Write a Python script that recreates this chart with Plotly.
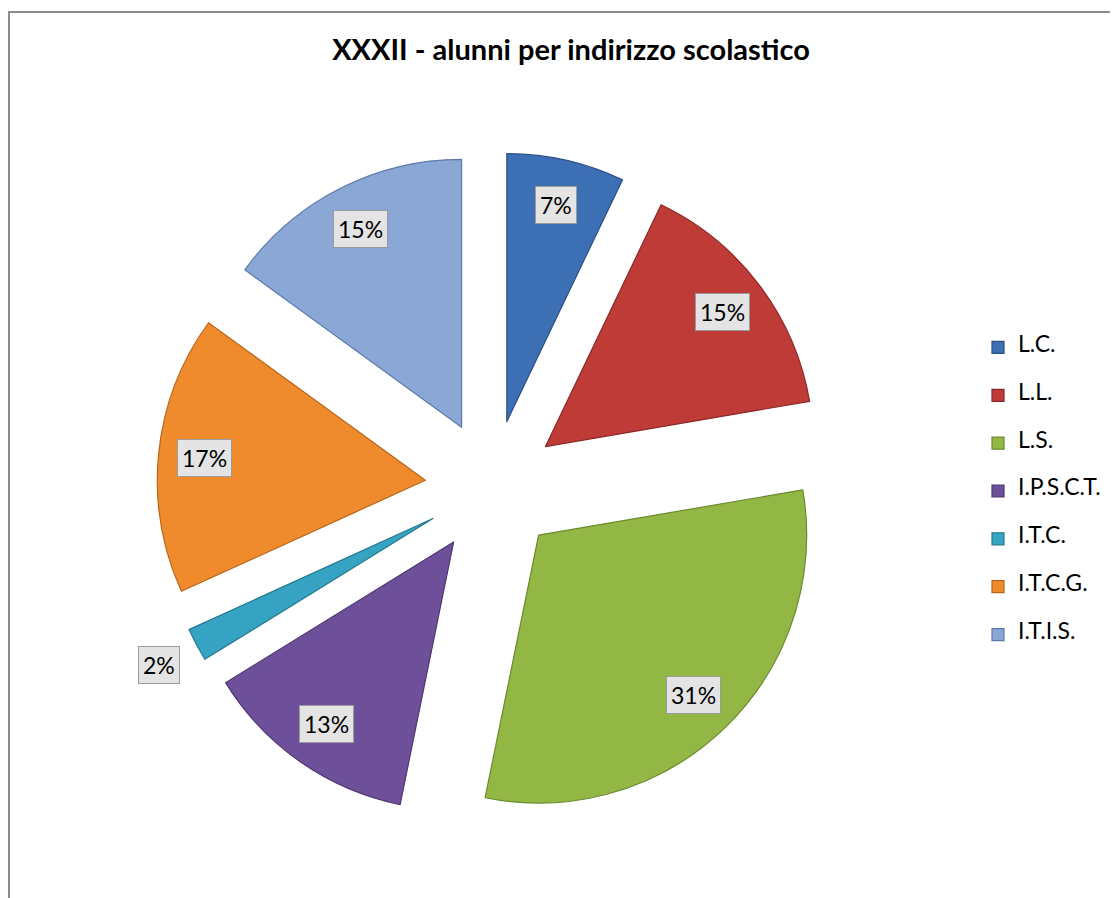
import math
import plotly.graph_objects as go

# dati
indirizzi = ["L.C.", "L.L.", "L.S.", "I.P.S.C.T.", "I.T.C.", "I.T.C.G.", "I.T.I.S."]
quote = [7.1, 15.2, 30.9, 13.0, 2.0, 16.8, 15.0]
colori = ["#3D6FB5", "#BE3B38", "#93B745", "#6D4F9A", "#35A3C1", "#EF8B2C", "#8AA7D6"]
bordi = ["#2A4F84", "#8B2826", "#6B8A2E", "#4F3870", "#267A90", "#B8651A", "#5D7BAA"]

W, H = 1118, 898
PULL = 0.25
dom_x = [149 / W, 819 / W]
dom_y = [1 - 814 / H, 1 - 144 / H]

# legenda: riga vuota sopra e sotto per distanziare le voci
etichette = ['<br><span style="font-size:23px">%s</span><br>' % s for s in indirizzi]

fig = go.Figure(go.Pie(
    labels=etichette,
    values=quote,
    sort=False,
    direction="clockwise",
    rotation=0,
    pull=PULL,
    textinfo="none",
    marker=dict(colors=colori, line=dict(color=bordi, width=1.2)),
    domain=dict(x=dom_x, y=dom_y),
    hoverinfo="skip",
))

# geometria della torta come la calcola plotly
bw = (dom_x[1] - dom_x[0]) * W
bh = (dom_y[1] - dom_y[0]) * H
r = min(bw, bh) / (2 + 2 * PULL)
cx = (dom_x[0] + dom_x[1]) / 2 * W
cy = (1 - (dom_y[0] + dom_y[1]) / 2) * H

tot = sum(quote)
cum = 0
for v in quote:
    mid = (cum + v / 2) / tot * 2 * math.pi
    cum += v
    k = 0.83 if v / tot > 0.03 else 1.16
    d = (PULL + k) * r
    px = cx + d * math.sin(mid)
    py = cy - d * math.cos(mid)
    fig.add_annotation(
        x=px / W, y=1 - py / H, xref="paper", yref="paper",
        xanchor="center", yanchor="middle",
        text="%d%%" % round(v / tot * 100), showarrow=False,
        font=dict(family="Lato, Open Sans, sans-serif", size=23, color="black"),
        bgcolor="#E4E4E4", bordercolor="#9A9A9A", borderwidth=1, borderpad=4,
    )

# cornice del grafico
fig.add_shape(type="rect", xref="paper", yref="paper",
              x0=1 / W, y0=-0.05, x1=1.05, y1=1 - 4 / H,
              line=dict(color="#8C8C8C", width=2))

fig.update_layout(
    width=W, height=H,
    margin=dict(l=0, r=0, t=0, b=0),
    paper_bgcolor="white",
    font=dict(family="Lato, Open Sans, sans-serif", color="black"),
    title=dict(text="<b>XXXII - alunni per indirizzo scolastico</b>",
               x=563 / W, xanchor="center", y=1 - 42 / H, yanchor="middle",
               font=dict(size=29, color="black")),
    legend=dict(x=970 / W, xanchor="left", y=1 - 483 / H, yanchor="middle",
                font=dict(size=11.5, color="black"), bgcolor="rgba(0,0,0,0)"),
)

fig.write_html("out.html")
